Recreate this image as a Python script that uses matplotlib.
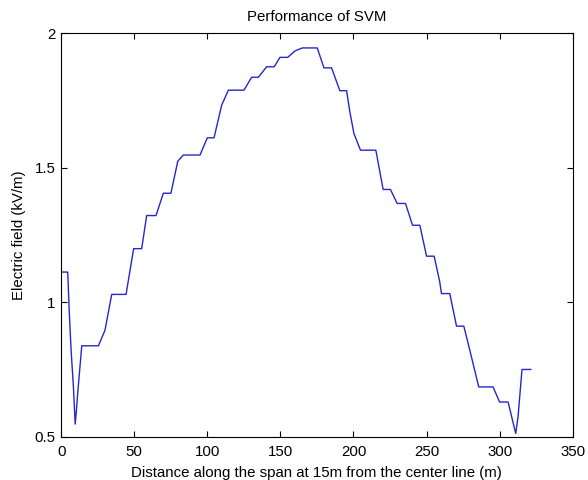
import matplotlib.pyplot as plt

# traced vertices of the curve
dist = [0, 4.5, 5.5, 6.8, 8.4, 9.6, 10.3, 11.4, 14.1, 25.5, 30, 34.6, 44.4,
        49.6, 55.1, 58.5, 64.9, 69.9, 75.1, 79.8, 83.6, 95, 100, 104.6,
        109.8, 114.4, 125.1, 130.3, 134.9, 140.6, 145.8, 149.7, 155, 160,
        165, 175.2, 179.8, 185, 190.7, 195.3, 197.5, 200.3, 204.8, 215.3,
        220.3, 225.3, 229.9, 235.6, 240.4, 245.4, 250, 255.2, 259, 260.2,
        265.9, 270.5, 275.5, 280.7, 285.7, 295.5, 300, 305.8, 311, 312.6,
        315.3, 321.3]
efield = [1.113, 1.113, 0.971, 0.823, 0.686, 0.548, 0.59, 0.668, 0.839, 0.839,
          0.897, 1.03, 1.03, 1.20, 1.20, 1.323, 1.323, 1.406, 1.406, 1.525,
          1.548, 1.548, 1.612, 1.612, 1.733, 1.789, 1.789, 1.837, 1.837,
          1.876, 1.876, 1.911, 1.911, 1.935, 1.946, 1.946, 1.872, 1.872,
          1.787, 1.787, 1.709, 1.628, 1.566, 1.566, 1.42, 1.42, 1.368, 1.368,
          1.287, 1.287, 1.172, 1.172, 1.077, 1.033, 1.033, 0.912, 0.912,
          0.798, 0.686, 0.686, 0.630, 0.630, 0.513, 0.575, 0.751, 0.751]

plt.rcParams['font.family'] = ['Liberation Sans', 'DejaVu Sans']
plt.rcParams['font.size'] = 10.8

fig = plt.figure(figsize=(5.88, 4.8), dpi=100)
ax = fig.add_axes([0.104, 0.0896, 0.87, 0.8408])
ax.plot(dist, efield, color=(0.15, 0.15, 0.8), linewidth=1)
ax.set_xlim(0, 350)
ax.set_ylim(0.5, 2)
ax.set_xticks(range(0, 351, 50))
ax.set_yticks([0.5, 1, 1.5, 2])
ax.set_yticklabels(['0.5', '1', '1.5', '2'])
ax.tick_params(direction='in', top=True, right=True, length=4, width=0.8)
ax.tick_params(axis='x', pad=5.5)
ax.tick_params(axis='y', pad=4)
for s in ax.spines.values():
    s.set_linewidth(0.8)
ax.set_title('Performance of SVM', fontsize=10.8, pad=9)
ax.set_xlabel('Distance along the span at 15m from the center line (m)', labelpad=5)
ax.set_ylabel('Electric field (kV/m)', labelpad=6)

fig.savefig('out.png', dpi=100)
